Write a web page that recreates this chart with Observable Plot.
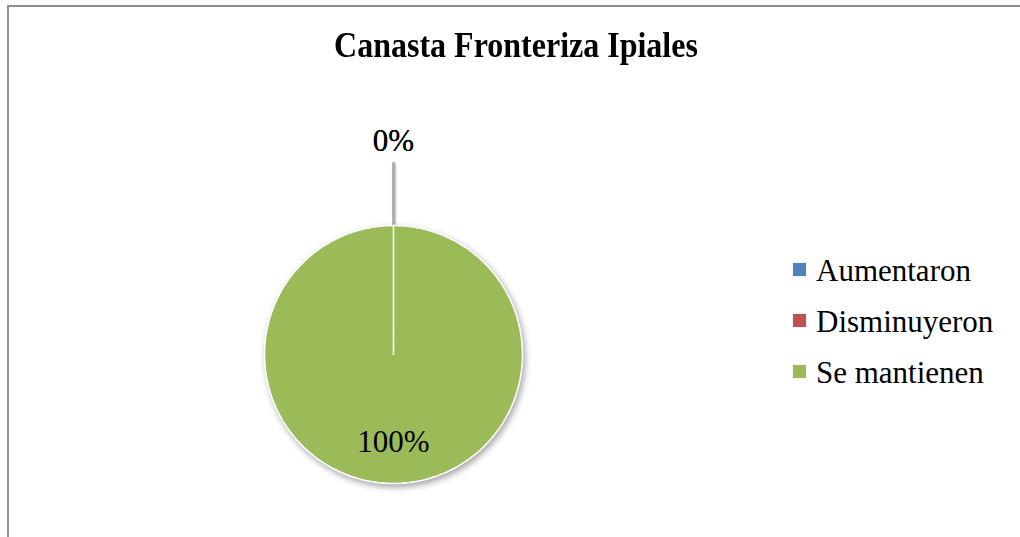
<!DOCTYPE html>
<html><head><meta charset="utf-8">
<script src="https://cdn.jsdelivr.net/npm/d3@7"></script>
<script src="https://cdn.jsdelivr.net/npm/@observablehq/plot@0.6"></script>
<style>
html,body{margin:0;background:#fff;overflow:hidden;}
#wrap{position:relative;width:1020px;height:537px;overflow:hidden;font-family:"Liberation Serif","Times New Roman",serif;color:#000;}
#hbar{position:absolute;left:7px;top:5px;width:2000px;height:2px;background:#8e8e8e;z-index:2;}
#vbar{position:absolute;left:7px;top:5px;width:2px;height:2000px;background:#8e8e8e;z-index:2;}
#chart{position:absolute;left:0;top:0;}
#chart g[aria-label="line"]{filter:drop-shadow(2px 3px 3px rgba(0,0,0,0.35));}
#chart g[aria-label="link"]{filter:drop-shadow(1px 1px 1px rgba(0,0,0,0.3));}
#title{position:absolute;left:0;width:1032px;top:30px;line-height:32px;text-align:center;font-weight:bold;font-size:32px;white-space:nowrap;transform:scaleY(1.12);transform-origin:50% 27px;}
.leg{position:absolute;left:793px;white-space:nowrap;}
.sw{position:absolute;left:0;width:13px;height:13px;box-shadow:0 0 1px rgba(0,0,0,0.2);}
.lt{position:absolute;left:23px;font-size:31px;line-height:31px;}
</style></head>
<body>
<div id="wrap">
  <div id="hbar"></div>
  <div id="vbar"></div>
  <div id="chart"></div>
  <div id="title"></div>
  <div id="legend"></div>
</div>
<script>
const title = "Canasta Fronteriza Ipiales";
const categories = ["Aumentaron", "Disminuyeron", "Se mantienen"];
const values = [0, 0, 100];
const labels = ["0%", "0%", "100%"];
const colors = ["#4f81bd", "#c0504d", "#9bbb59"];

document.getElementById("title").textContent = title;

const data = categories.map((c, i) => ({cat: c, value: values[i], label: labels[i]}));
const arcs = d3.pie().sort(null).value(d => d.value)(data);

// slice outlines in unit-circle coordinates (angle 0 at top, clockwise)
const poly = [];
for (const a of arcs) {
  const cat = a.data.cat;
  poly.push({cat, x: 0, y: 0});
  const n = Math.max(1, Math.ceil((a.endAngle - a.startAngle) / (2 * Math.PI) * 360));
  for (let i = 0; i <= n; i++) {
    const t = a.startAngle + (a.endAngle - a.startAngle) * i / n;
    poly.push({cat, x: Math.sin(t), y: Math.cos(t)});
  }
}
// zero slices first so the real slice paints on top
const order = arcs.slice().sort((a, b) => a.value - b.value).map(a => a.data.cat);
poly.sort((p, q) => order.indexOf(p.cat) - order.indexOf(q.cat));

const lab = arcs.map(a => {
  const m = (a.startAngle + a.endAngle) / 2;
  const outside = a.value === 0;
  const r = outside ? 1.655 : 0.677;
  return {cat: a.data.cat, label: a.data.label, outside, m,
    x: Math.sin(m) * r, y: Math.cos(m) * r,
    x1: Math.sin(m), y1: Math.cos(m), x2: Math.sin(m) * 1.49, y2: Math.cos(m) * 1.49};
});

const plot = Plot.plot({
  width: 1020, height: 537,
  margin: 0,
  x: {domain: [-1, 1], range: [264, 522], axis: null},
  y: {domain: [-1, 1], range: [483, 225], axis: null},
  color: {domain: categories, range: colors},
  style: {background: "transparent", overflow: "visible", fontFamily: "Liberation Serif, serif"},
  marks: [
    Plot.link(lab.filter(d => d.outside), {x1: "x1", y1: "y1", x2: "x2", y2: "y2", stroke: "#a6a6a6", strokeWidth: 2}),
    Plot.line(poly, {x: "x", y: "y", z: "cat", fill: "cat", stroke: "white", strokeWidth: 1.6, curve: "linear-closed"}),
    Plot.text(lab, {x: "x", y: "y", text: "label", fontSize: 31, fill: "black", textAnchor: "middle", fontFamily: "Liberation Serif, serif"})
  ]
});
document.getElementById("chart").appendChild(plot);

const legend = document.getElementById("legend");
const legTops = [255, 306, 357];
categories.forEach((c, i) => {
  const row = document.createElement("div");
  row.className = "leg";
  row.style.top = legTops[i] + "px";
  const sw = document.createElement("div");
  sw.className = "sw";
  sw.style.top = "8px";
  sw.style.background = colors[i];
  const t = document.createElement("div");
  t.className = "lt";
  t.style.top = "0px";
  t.textContent = c;
  row.appendChild(sw); row.appendChild(t);
  legend.appendChild(row);
});
</script>
</body></html>
